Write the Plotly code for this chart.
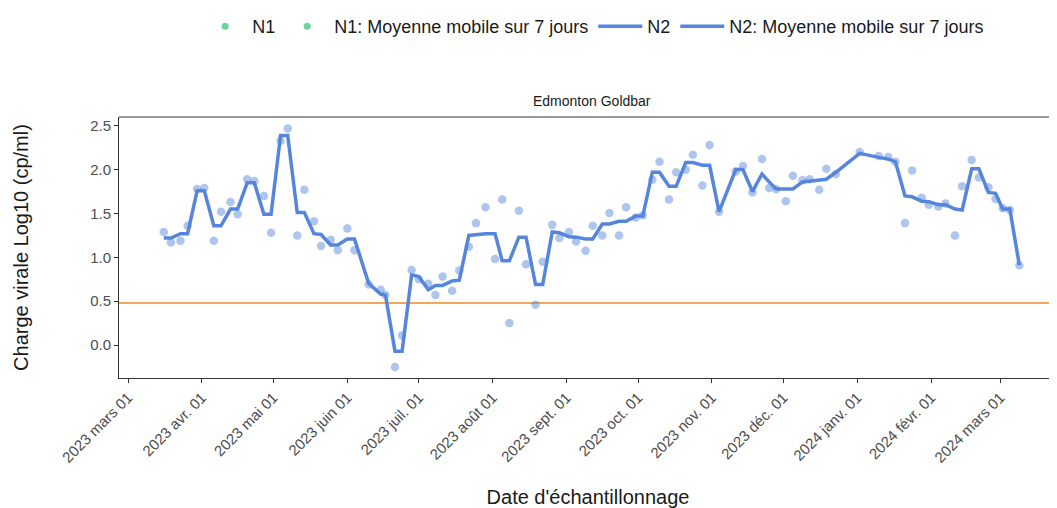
import plotly.graph_objects as go

dates = [
    "2023-03-16", "2023-03-19", "2023-03-23", "2023-03-26", "2023-03-30", "2023-04-02",
    "2023-04-06", "2023-04-09", "2023-04-13", "2023-04-16", "2023-04-20", "2023-04-23",
    "2023-04-27", "2023-04-30", "2023-05-04", "2023-05-07", "2023-05-11", "2023-05-14",
    "2023-05-18", "2023-05-21", "2023-05-25", "2023-05-28", "2023-06-01", "2023-06-04",
    "2023-06-10", "2023-06-15", "2023-06-17", "2023-06-21", "2023-06-24", "2023-06-28",
    "2023-07-01", "2023-07-05", "2023-07-08", "2023-07-11", "2023-07-15", "2023-07-18",
    "2023-07-22", "2023-07-25", "2023-07-29", "2023-08-02", "2023-08-05", "2023-08-08",
    "2023-08-12", "2023-08-15", "2023-08-19", "2023-08-22", "2023-08-26", "2023-08-29",
    "2023-09-02", "2023-09-05", "2023-09-09", "2023-09-12", "2023-09-16", "2023-09-19",
    "2023-09-23", "2023-09-26", "2023-09-30", "2023-10-03", "2023-10-07", "2023-10-10",
    "2023-10-14", "2023-10-17", "2023-10-21", "2023-10-24", "2023-10-28", "2023-10-31",
    "2023-11-04", "2023-11-11", "2023-11-14", "2023-11-18", "2023-11-22", "2023-11-25",
    "2023-11-28", "2023-12-02", "2023-12-05", "2023-12-09", "2023-12-12", "2023-12-16",
    "2023-12-19", "2023-12-23", "2024-01-02", "2024-01-10", "2024-01-14", "2024-01-17",
    "2024-01-21", "2024-01-24", "2024-01-28", "2024-01-31", "2024-02-04", "2024-02-07",
    "2024-02-11", "2024-02-14", "2024-02-18", "2024-02-21", "2024-02-25", "2024-02-28",
    "2024-03-02", "2024-03-05", "2024-03-09",
]

n2_values = [
    1.29, 1.17, 1.19, 1.36, 1.78, 1.79,
    1.19, 1.52, 1.63, 1.49, 1.89, 1.87,
    1.70, 1.28, 2.33, 2.47, 1.25, 1.77,
    1.41, 1.13, 1.20, 1.08, 1.33, 1.08,
    0.69, 0.63, 0.57, -0.25, 0.11, 0.855,
    0.75, 0.70, 0.57, 0.78, 0.62, 0.85,
    1.12, 1.39, 1.57, 0.98, 1.66, 0.25,
    1.53, 0.92, 0.46, 0.95, 1.37, 1.22,
    1.29, 1.18, 1.075, 1.36, 1.25, 1.505,
    1.25, 1.57, 1.455, 1.48, 1.885, 2.09,
    1.66, 1.97, 2.00, 2.17, 1.82, 2.28,
    1.52, 1.98, 2.04, 1.74, 2.12, 1.79,
    1.775, 1.64, 1.93, 1.88, 1.89, 1.77,
    2.01, 1.95, 2.20, 2.155, 2.145, 2.09,
    1.39, 1.99, 1.68, 1.60, 1.58, 1.615,
    1.25, 1.81, 2.11, 1.91, 1.80, 1.665,
    1.56, 1.54, 0.91,
]

n2_ma7 = [
    1.22, 1.22, 1.27, 1.27, 1.76, 1.76,
    1.36, 1.36, 1.55, 1.55, 1.85, 1.85,
    1.49, 1.49, 2.39, 2.39, 1.51, 1.51,
    1.27, 1.26, 1.14, 1.14, 1.21, 1.21,
    0.70, 0.58, 0.57, -0.07, -0.07, 0.80,
    0.78, 0.63, 0.68, 0.68, 0.73, 0.74,
    1.25, 1.26, 1.27, 1.27, 0.96, 0.96,
    1.23, 1.23, 0.69, 0.69, 1.29, 1.28,
    1.235, 1.23, 1.21, 1.21, 1.38, 1.38,
    1.41, 1.41, 1.47, 1.47, 1.97, 1.97,
    1.81, 1.81, 2.08, 2.08, 2.05, 2.05,
    1.52, 2.00, 2.00, 1.75, 1.95, 1.86,
    1.78, 1.78, 1.78, 1.86, 1.87, 1.88,
    1.89, 1.97, 2.185, 2.14, 2.12, 2.09,
    1.70, 1.69, 1.64, 1.635, 1.60, 1.60,
    1.55, 1.54, 2.01, 2.01, 1.74, 1.73,
    1.55, 1.55, 0.91,
]

threshold = 0.48

tick_dates = [
    "2023-03-01", "2023-04-01", "2023-05-01", "2023-06-01", "2023-07-01", "2023-08-01",
    "2023-09-01", "2023-10-01", "2023-11-01", "2023-12-01", "2024-01-01", "2024-02-01",
    "2024-03-01",
]
tick_labels = [
    "2023 mars 01", "2023 avr. 01", "2023 mai 01", "2023 juin 01", "2023 juil. 01",
    "2023 août 01", "2023 sept. 01", "2023 oct. 01", "2023 nov. 01", "2023 déc. 01",
    "2024 janv. 01", "2024 févr. 01", "2024 mars 01",
]

BLUE = "rgb(86,134,219)"
GREEN = "#6CD49B"
FONT = "Liberation Sans, Arial, sans-serif"

fig = go.Figure()

fig.add_trace(go.Scatter(
    x=[None], y=[None], mode="markers", name="N1",
    marker=dict(color=GREEN, size=7),
))
fig.add_trace(go.Scatter(
    x=[None], y=[None], mode="markers", name="N1: Moyenne mobile sur 7 jours",
    marker=dict(color=GREEN, size=7),
))
fig.add_trace(go.Scatter(
    x=dates, y=n2_values, mode="markers", name="N2",
    marker=dict(color="rgba(86,134,219,0.48)", size=8.5),
    showlegend=False,
))
fig.add_trace(go.Scatter(
    x=[None], y=[None], mode="lines", name="N2",
    line=dict(color=BLUE, width=3.5),
))
fig.add_trace(go.Scatter(
    x=dates, y=n2_ma7, mode="lines", name="N2: Moyenne mobile sur 7 jours",
    line=dict(color=BLUE, width=3.5),
))

fig.add_shape(
    type="line", xref="paper", x0=0, x1=1, yref="y", y0=threshold, y1=threshold,
    line=dict(color="#EE8A2A", width=1.4), layer="below",
)
# top border of the panel
fig.add_shape(
    type="line", xref="paper", x0=0, x1=1, yref="paper", y0=1, y1=1,
    line=dict(color="#333333", width=1),
)

fig.add_annotation(
    text="Edmonton Goldbar", xref="x", yref="paper", x="2023-09-11 12:00", y=1.0,
    yanchor="bottom", yshift=6, showarrow=False,
    font=dict(family=FONT, size=14, color="#1a1a1a"),
)

fig.update_layout(
    width=1049, height=500,
    margin=dict(l=111, r=0, t=109, b=130, autoexpand=False),
    paper_bgcolor="white", plot_bgcolor="white",
    font=dict(family=FONT, color="#1a1a1a"),
    legend=dict(
        orientation="h", x=0.506, xanchor="center", y=1.0, yref="container",
        yanchor="top", font=dict(size=18, color="#1a1a1a"),
        traceorder="normal", itemwidth=44,
    ),
    showlegend=True,
)

fig.update_xaxes(
    type="date", automargin=False,
    range=["2023-02-25 05:00", "2024-03-24 19:00"],
    tickvals=tick_dates, ticktext=tick_labels, tickangle=-45,
    tickfont=dict(size=15, color="#4d4d4d", family=FONT),
    ticks="outside", ticklen=4, tickcolor="#333333",
    showline=True, linecolor="#333333", linewidth=1, mirror=False,
    showgrid=False, zeroline=False,
    title=dict(text="Date d'échantillonnage", font=dict(size=20, color="#1a1a1a", family=FONT), standoff=25),
)
fig.update_yaxes(
    automargin=False,
    range=[-0.376, 2.60],
    tickvals=[0, 0.5, 1.0, 1.5, 2.0, 2.5], ticktext=["0.0", "0.5", "1.0", "1.5", "2.0", "2.5"],
    tickfont=dict(size=15, color="#4d4d4d", family=FONT),
    ticks="outside", ticklen=4, tickcolor="#333333",
    showline=True, linecolor="#333333", linewidth=1, mirror=False,
    showgrid=False, zeroline=False,
    title=dict(text="Charge virale Log10 (cp/ml)", font=dict(size=20, color="#1a1a1a", family=FONT), standoff=56),
)

fig.write_html("out.html")
